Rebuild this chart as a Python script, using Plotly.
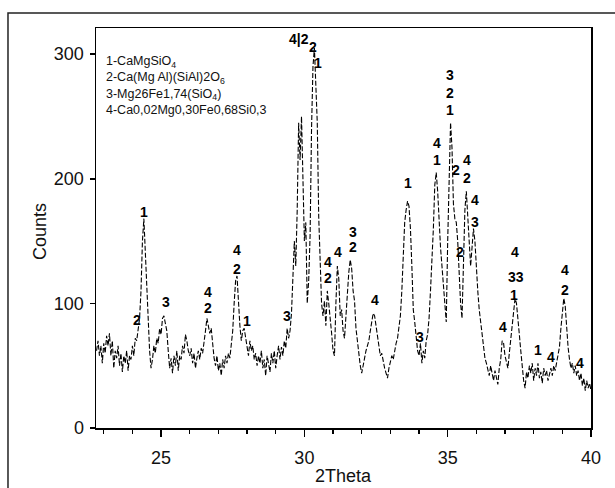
import plotly.graph_objects as go

# XRD scan: start angle, step and intensity values
scan_start = 22.75
scan_step = 0.05
counts = [
    62, 70, 58, 66, 52, 68, 60, 74, 66, 76,   # 22.75 - 23.20
    58, 70, 48, 62, 56, 66, 50, 60, 45, 58,   # 23.25 - 23.70
    52, 62, 46, 58, 55, 66, 58, 72, 70, 82,   # 23.75 - 24.20
    88, 110, 150, 168, 140, 105, 80, 62, 48, 55,  # 24.25 - 24.70
    66, 60, 72, 68, 80, 75, 88, 90, 84, 78,   # 24.75 - 25.20
    62, 48, 56, 44, 58, 50, 62, 46, 58, 55,   # 25.25 - 25.70
    66, 60, 75, 70, 62, 58, 64, 52, 60, 48,   # 25.75 - 26.20
    56, 62, 55, 64, 60, 72, 78, 88, 82, 76,   # 26.25 - 26.70
    80, 64, 56, 50, 58, 46, 52, 42, 55, 48,   # 26.75 - 27.20
    58, 52, 60, 56, 68, 78, 100, 118, 122, 98,  # 27.25 - 27.70
    82, 70, 78, 80, 72, 64, 58, 70, 62, 66,   # 27.75 - 28.20
    55, 60, 50, 58, 52, 62, 48, 55, 42, 58,   # 28.25 - 28.70
    50, 45, 60, 52, 62, 48, 58, 66, 55, 65,   # 28.75 - 29.20
    58, 70, 64, 80, 72, 78, 92, 120, 150, 130,  # 29.25 - 29.70
    175, 245, 215, 250, 200, 150, 165, 100, 118, 155,  # 29.75 - 30.20
    240, 290, 305, 270, 245, 170, 130, 100, 90, 102,  # 30.25 - 30.70
    82, 110, 100, 90, 76, 62, 58, 100, 130, 120,  # 30.75 - 31.20
    90, 95, 78, 72, 90, 112, 125, 135, 128, 110,  # 31.25 - 31.70
    102, 80, 68, 58, 50, 44, 52, 56, 62, 66,  # 31.75 - 32.20
    70, 78, 85, 92, 90, 82, 75, 65, 58, 60,   # 32.25 - 32.70
    52, 48, 44, 40, 48, 52, 58, 55, 62, 68,   # 32.75 - 33.20
    72, 80, 90, 110, 135, 165, 175, 182, 178, 160,  # 33.25 - 33.70
    130, 95, 85, 72, 62, 58, 68, 52, 62, 56,  # 33.75 - 34.20
    70, 75, 88, 110, 130, 160, 195, 205, 190, 160,  # 34.25 - 34.70
    145, 130, 115, 95, 85, 150, 205, 245, 225, 180,  # 34.75 - 35.20
    168, 165, 150, 125, 100, 88, 130, 175, 190, 170,  # 35.25 - 35.70
    150, 130, 145, 160, 150, 125, 110, 95, 85, 75,  # 35.75 - 36.20
    65, 56, 52, 48, 42, 50, 44, 38, 46, 40,   # 36.25 - 36.70
    35, 48, 55, 70, 68, 58, 52, 48, 60, 72,   # 36.75 - 37.20
    85, 98, 104, 100, 90, 75, 62, 48, 38, 32,  # 37.25 - 37.70
    45, 40, 50, 44, 52, 38, 48, 42, 52, 40,   # 37.75 - 38.20
    45, 36, 48, 42, 46, 38, 44, 48, 42, 50,   # 38.25 - 38.70
    46, 52, 58, 65, 80, 95, 104, 98, 80, 65,  # 38.75 - 39.20
    55, 48, 52, 44, 50, 42, 46, 38, 44, 34,   # 39.25 - 39.70
    40, 30, 38, 32, 36, 30,                   # 39.75 - 40.00
]
two_theta = [round(scan_start + scan_step * i, 2) for i in range(len(counts))]

# phase legend lines
phase_lines = [
    "1-CaMgSiO<sub>4</sub>",
    "2-Ca(Mg Al)(SiAl)2O<sub>6</sub>",
    "3-Mg26Fe1,74(SiO<sub>4</sub>)",
    "4-Ca0,02Mg0,30Fe0,68Si0,3",
]

# peak identification labels (one row each)
label_x = [24.40, 24.16, 25.17, 26.62, 26.62, 27.65, 27.65, 28.00, 29.39,
           29.82, 30.30, 30.47, 30.82, 30.82, 31.17, 31.69, 31.69, 32.46,
           33.61, 34.03, 34.62, 34.62, 35.08, 35.08, 35.08, 35.30, 35.67,
           35.67, 35.95, 35.95, 35.43, 36.93, 37.35, 37.40, 37.33, 38.15,
           38.60, 39.09, 39.09, 39.61]
label_y = [173, 87, 101, 109, 96, 143, 128, 86, 90,
           312, 306, 293, 133, 120, 141, 157, 145, 103,
           197, 73, 229, 215, 283, 269, 255, 207, 215,
           201, 183, 165, 141, 81, 141, 121, 107, 63,
           57, 127, 111, 52]
label_text = ["1", "2", "3", "4", "2", "4", "2", "1", "3",
              "4|2", "2", "1", "4", "2", "4", "3", "2", "4",
              "1", "3", "4", "1", "3", "2", "1", "2", "4",
              "2", "4", "3", "2", "4", "4", "33", "1", "1",
              "4", "4", "2", "4"]

x_ticks = [25, 30, 35, 40]
y_ticks = [0, 100, 200, 300]

fig = go.Figure()
fig.add_trace(go.Scatter(
    x=two_theta, y=counts, mode="lines",
    line=dict(color="black", width=1.1, dash="5px,2px"),
    showlegend=False, hoverinfo="skip",
))

axis_font = dict(family="Liberation Sans, Arial, sans-serif", size=18, color="#111")

fig.update_xaxes(
    range=[22.73, 40.0], tickvals=x_ticks, ticks="outside", ticklen=7,
    tickwidth=1.5, tickcolor="black", showline=True, linecolor="black",
    linewidth=1.5, mirror=True, showgrid=False, zeroline=False,
    tickfont=axis_font, ticklabelstandoff=6,
    minor=dict(dtick=1, tick0=0, ticks="outside", ticklen=4, tickwidth=1.2,
               tickcolor="black", showgrid=False),
)
fig.update_yaxes(
    range=[0, 321], tickvals=y_ticks, ticks="outside", ticklen=5,
    tickwidth=1.5, tickcolor="black", showline=True, linecolor="black",
    linewidth=1.5, mirror=True, showgrid=False, zeroline=False,
    tickfont=axis_font, ticklabelstandoff=2,
)

annotations = []
for lx, ly, lt in zip(label_x, label_y, label_text):
    annotations.append(dict(
        x=lx, y=ly, xref="x", yref="y", text="<b>" + lt + "</b>",
        showarrow=False, xanchor="center", yanchor="middle",
        font=dict(family="Liberation Sans, Arial, sans-serif",
                  size=14, color="black"),
    ))

annotations.append(dict(
    x=0.016, y=0.94, xref="paper", yref="paper", xanchor="left", yanchor="top",
    align="left", showarrow=False, text="<br>".join(phase_lines),
    font=dict(family="Liberation Sans, Arial, sans-serif", size=12.5, color="#111"),
))
annotations.append(dict(
    x=-0.113, y=0.49, xref="paper", yref="paper", xanchor="center", yanchor="middle",
    showarrow=False, text="Counts", textangle=-90, font=axis_font,
))
annotations.append(dict(
    x=0.5, y=-0.12, xref="paper", yref="paper", xanchor="center", yanchor="middle",
    showarrow=False, text="2Theta", font=axis_font,
))

fig.update_layout(
    width=615, height=488,
    margin=dict(l=96, r=24, t=28, b=60),
    paper_bgcolor="white", plot_bgcolor="white",
    annotations=annotations,
    shapes=[dict(type="rect", xref="paper", yref="paper",
                 x0=-0.1778, x1=1.06, y0=-0.2, y1=1.0375,
                 line=dict(color="#222", width=1.5), layer="below")],
)

fig.write_html(
    "out.html",
    config={"displayModeBar": False, "staticPlot": True},
    post_script="document.body.style.margin='0';document.body.style.overflow='hidden';",
)
